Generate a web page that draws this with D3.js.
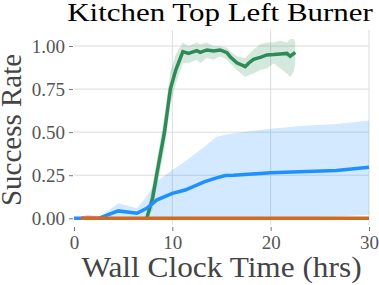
<!DOCTYPE html>
<html>
<head>
<meta charset="utf-8">
<script src="https://cdn.jsdelivr.net/npm/d3@7"></script>
<style>
    body { margin: 0; background: #fff; }
    text { font-family: 'Liberation Serif', 'Times New Roman', serif; }
</style>
</head>
<body>
<script>
// tick labels
const xTicks = [0, 10, 20, 30];
const yTicks = [0, 0.25, 0.5, 0.75, 1.0];

// green run (mean with min/max band)
const greenX = [7.4, 8.0, 8.4, 9.2, 9.8, 10.35, 11.07, 11.64, 12.49, 12.83, 13.51, 14.19, 14.87, 15.55, 15.88, 16.56, 17.41, 17.75, 18.26, 18.94, 19.62, 20.3, 20.97, 21.65, 21.99, 22.33, 22.5];
const greenMean = [0, 0.12, 0.25, 0.5, 0.75, 0.86, 0.967, 0.957, 0.973, 0.963, 0.977, 0.971, 0.977, 0.961, 0.938, 0.903, 0.88, 0.9, 0.923, 0.934, 0.948, 0.95, 0.954, 0.957, 0.94, 0.955, 0.963];
const greenUpper = [0.01, 0.2, 0.33, 0.6, 0.85, 0.95, 1.02, 1.0, 1.02, 1.01, 1.02, 1.0, 1.0, 0.99, 0.97, 0.94, 0.93, 0.95, 0.98, 1.01, 1.02, 1.02, 1.03, 1.02, 1.04, 1.04, 1.02];
const greenLower = [0, 0.05, 0.17, 0.4, 0.66, 0.78, 0.9, 0.9, 0.92, 0.9, 0.93, 0.92, 0.94, 0.92, 0.9, 0.86, 0.82, 0.83, 0.84, 0.86, 0.87, 0.9, 0.87, 0.84, 0.82, 0.85, 0.9];

// blue run
const blueX = [0, 2.5, 4.5, 6.4, 7.4, 8.4, 10, 11.3, 13.3, 14.5, 15.4, 16.2, 19.3, 20, 23, 26.7, 30];
const blueMean = [0, 0, 0.043, 0.029, 0.058, 0.106, 0.145, 0.164, 0.213, 0.235, 0.248, 0.25, 0.262, 0.265, 0.27, 0.277, 0.296];
const blueUpper = [0, 0, 0.087, 0.058, 0.126, 0.213, 0.28, 0.33, 0.416, 0.474, 0.485, 0.493, 0.515, 0.52, 0.536, 0.548, 0.567];
const blueLower = [0, 0, 0, 0, 0, 0, 0, 0, 0, 0, 0, 0, 0, 0, 0.005, 0.01, 0.02];

// pink run (almost hidden under orange)
const pinkX = [0.7, 1.5, 2.5, 3.0];
const pinkMean = [0, 0.005, 0, 0];
const pinkUpper = [0.01, 0.02, 0.01, 0];
const pinkLower = [0, 0, 0, 0];

// orange run
const orangeX = [0.7, 30];
const orangeMean = [0, 0];

const W = 379, H = 285;
const plot = { left: 74, right: 369, top: 30, bottom: 225 };
const serif = "'Liberation Serif', 'Times New Roman', serif";

const svg = d3.select('body').append('svg')
    .attr('width', W)
    .attr('height', H);

const xscale = d3.scaleLinear().domain([0, 30]).range([plot.left, plot.right]);
const yscale = d3.scaleLinear().domain([0, 1]).range([218.3, 46]);

//grid lines
const grid = svg.append('g').attr('class', 'grid');
grid.selectAll('line.h').data(yTicks).enter().append('line')
    .attr('x1', plot.left).attr('x2', plot.right)
    .attr('y1', (d) => yscale(d)).attr('y2', (d) => yscale(d))
    .attr('stroke', '#dcdcdc').attr('stroke-width', 1);
grid.selectAll('line.v').data(xTicks.slice(1)).enter().append('line')
    .attr('x1', (d) => xscale(d)).attr('x2', (d) => xscale(d))
    .attr('y1', plot.top).attr('y2', plot.bottom)
    .attr('stroke', '#dcdcdc').attr('stroke-width', 1);

//axes (ticks only, no domain line)
const xaxis = d3.axisBottom(xscale).tickValues(xTicks).tickFormat(d3.format('d'))
    .tickSizeInner(4).tickSizeOuter(0).tickPadding(4.5);
const yaxis = d3.axisLeft(yscale).tickValues(yTicks).tickFormat(d3.format('.2f'))
    .tickSizeInner(4).tickSizeOuter(0).tickPadding(4);

const gx = svg.append('g').attr('transform', `translate(0,227)`).call(xaxis);
const gy = svg.append('g').attr('transform', `translate(73,0)`).call(yaxis);
[gx, gy].forEach((g) => {
    g.attr('font-family', serif).attr('font-size', 19);
    g.select('.domain').remove();
    g.selectAll('.tick line').attr('stroke', '#777');
    g.selectAll('.tick text').attr('fill', '#555');
});

//bands and lines
const area = (xs, lo, hi) => d3.area()
    .x((d, i) => xscale(xs[i]))
    .y0((d, i) => yscale(lo[i]))
    .y1((d, i) => yscale(hi[i]))(xs);
const line = (xs, ys) => d3.line()
    .x((d, i) => xscale(xs[i]))
    .y((d, i) => yscale(ys[i]))(xs);

const chart = svg.append('g').attr('class', 'chart');
chart.append('path').attr('d', area(blueX, blueLower, blueUpper))
    .attr('fill', '#1e90ff').attr('fill-opacity', 0.2);
chart.append('path').attr('d', area(greenX, greenLower, greenUpper))
    .attr('fill', '#2e8b57').attr('fill-opacity', 0.2);
chart.append('path').attr('d', area(pinkX, pinkLower, pinkUpper))
    .attr('fill', '#e377c2').attr('fill-opacity', 0.35);

chart.append('path').attr('d', line(greenX, greenMean))
    .attr('fill', 'none').attr('stroke', '#2e8b57').attr('stroke-width', 3.5);
chart.append('path').attr('d', line(blueX, blueMean))
    .attr('fill', 'none').attr('stroke', '#1e90ff').attr('stroke-width', 3.5);
chart.append('path').attr('d', line(pinkX, pinkMean))
    .attr('fill', 'none').attr('stroke', '#e377c2').attr('stroke-width', 3);
chart.append('path').attr('d', line(orangeX, orangeMean))
    .attr('fill', 'none').attr('stroke', '#d2691e').attr('stroke-width', 3.5);

//title and axis labels
svg.append('text')
    .attr('transform', 'translate(220,21) scale(1.19,1)')
    .attr('text-anchor', 'middle')
    .style('font-size', '26px')
    .attr('fill', '#000')
    .text('Kitchen Top Left Burner');

svg.append('text')
    .attr('transform', 'translate(221.5,277) scale(1.08,1)')
    .attr('text-anchor', 'middle')
    .style('font-size', '29px')
    .attr('fill', '#444')
    .text('Wall Clock Time (hrs)');

svg.append('text')
    .attr('transform', 'translate(21,130) rotate(-90)')
    .attr('text-anchor', 'middle')
    .style('font-size', '29px')
    .attr('fill', '#444')
    .text('Success Rate');
</script>
</body>
</html>
